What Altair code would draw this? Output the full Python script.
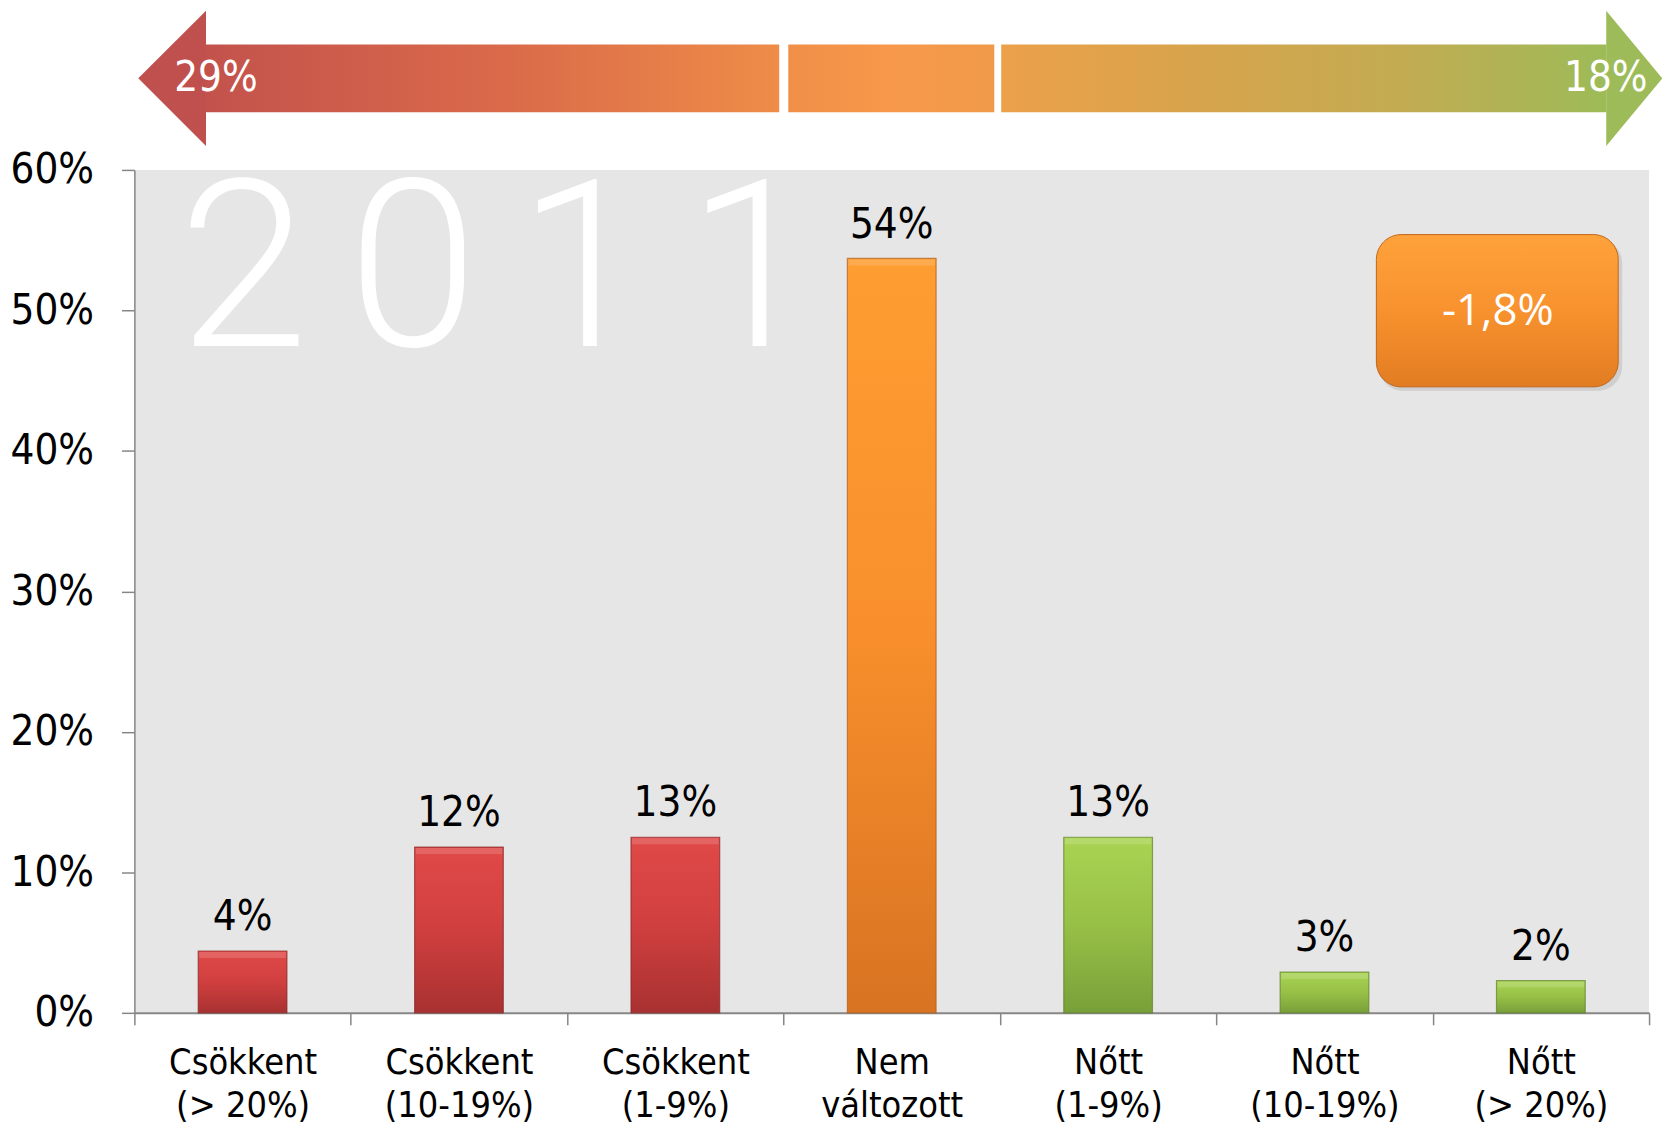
import altair as alt
import pandas as pd

# ---------------- data ----------------
categories = ["Csökkent|(> 20%)", "Csökkent|(10-19%)", "Csökkent|(1-9%)",
              "Nem|változott", "Nőtt|(1-9%)", "Nőtt|(10-19%)", "Nőtt|(> 20%)"]
values = [4.4, 11.8, 12.5, 53.7, 12.5, 2.9, 2.3]
value_labels = ["4%", "12%", "13%", "54%", "13%", "3%", "2%"]
groups = ["down", "down", "down", "same", "up", "up", "up"]
y_ticks = [0, 10, 20, 30, 40, 50, 60]
year_text = "2\u20060\u20061\u20061"
change_text = "-1,8%"
arrow_left_text = "29%"
arrow_right_text = "18%"

# ---------------- layout / style ----------------
W, H = 1522, 847
FONT = "DejaVu Sans Condensed, Liberation Sans Narrow, Liberation Sans, sans-serif"
AXIS_GRAY = "#868686"

df = pd.DataFrame({"cat": categories, "value": values, "vlab": value_labels, "grp": groups})


def vgrad(top, mid, bottom):
    return alt.Gradient(gradient="linear",
                        stops=[alt.GradientStop(color=top, offset=0),
                               alt.GradientStop(color=mid, offset=0.5),
                               alt.GradientStop(color=bottom, offset=1)],
                        x1=0, x2=0, y1=0, y2=1)


def hgrad(*cols):
    n = len(cols) - 1
    return alt.Gradient(gradient="linear",
                        stops=[alt.GradientStop(color=c, offset=i / n) for i, c in enumerate(cols)],
                        x1=0, x2=1, y1=0, y2=0)


bar_fill = {
    "down": (vgrad("#e04a48", "#d03f3f", "#a93131"), "#8a2626"),
    "same": (vgrad("#fe9d31", "#f88f2c", "#d87322"), "#b35c18"),
    "up": (vgrad("#a9d452", "#97c047", "#78a039"), "#5f8029"),
}

x_enc = alt.X("cat:N", sort=categories,
              scale=alt.Scale(domain=categories, paddingInner=0, paddingOuter=0),
              axis=alt.Axis(title=None,
                            labelExpr="isValid(datum.value) ? split(datum.value, '|') : ''",
                            labelAngle=0,
                            labelFont=FONT, labelFontSize=36, labelColor="black",
                            labelLineHeight=43, labelPadding=21, labelOverlap=False,
                            tickBand="extent", tickSize=12, tickColor=AXIS_GRAY, tickWidth=1.5,
                            domainColor=AXIS_GRAY, domainWidth=2))
y_enc = alt.Y("value:Q", scale=alt.Scale(domain=[0, 60], nice=False),
              axis=alt.Axis(title=None, values=y_ticks, labelExpr="datum.value + '%'",
                            grid=False, labelFont=FONT, labelFontSize=42, labelColor="black",
                            labelPadding=28, tickSize=13, tickColor=AXIS_GRAY, tickWidth=1.5,
                            domainColor=AXIS_GRAY, domainWidth=1.5))

base = alt.Chart(df).encode(x=x_enc, y=y_enc)

bar_layers = []
for g, (fill, stroke) in bar_fill.items():
    bar_layers.append(
        base.transform_filter(alt.datum.grp == g)
        .mark_bar(width=alt.RelativeBandSize(0.41), fill=fill, stroke=stroke,
                  strokeWidth=1.2, strokeOpacity=0.7)
    )

bevel = base.mark_tick(size=87, thickness=6, yOffset=4, color="white", opacity=0.15)

labels = base.mark_text(font=FONT, fontSize=42, color="black", baseline="alphabetic", dy=-21).encode(
    text="vlab:N")

year = alt.Chart(pd.DataFrame({"t": [year_text]})).mark_text(
    font="Roboto, DejaVu Sans Condensed, sans-serif", fontWeight=300, fontSize=235,
    color="white", align="center", baseline="alphabetic"
).encode(x=alt.value(365), y=alt.value(177), text="t:N")

box_df = pd.DataFrame({"t": [change_text]})
box_shadow = alt.Chart(box_df).mark_rect(cornerRadius=25, color="#9a9a9a", opacity=0.3).encode(
    x=alt.value(1250), x2=alt.value(1495), y=alt.value(69), y2=alt.value(222))
box = alt.Chart(box_df).mark_rect(
    cornerRadius=25, fill=vgrad("#fea23c", "#f8922e", "#e27c22"), stroke="#c0661a", strokeWidth=1
).encode(x=alt.value(1248), x2=alt.value(1491), y=alt.value(65), y2=alt.value(218))
box_text = alt.Chart(box_df).mark_text(
    font="Open Sans, Noto Sans, sans-serif", fontSize=44, color="white",
    align="center", baseline="middle"
).encode(x=alt.value(1370), y=alt.value(143), text="t:N")

main = alt.layer(*bar_layers, bevel, labels, year, box_shadow, box, box_text)

# ---------------- top arrow (x in category units, y in 0..1 of arrow height) ----------------
ax = alt.Scale(domain=[0, 7], nice=False, zero=False)
ay = alt.Scale(domain=[0, 1], range=[-24, -160], nice=False, zero=False)

left_head = alt.Chart(pd.DataFrame({"x": [0.018, 0.331], "y": [0.5, 0.0], "y2": [0.5, 1.0]})).mark_area(
    color="#c0504d").encode(x=alt.X("x:Q", scale=ax, axis=None), y=alt.Y("y:Q", scale=ay, axis=None), y2="y2:Q")
right_head = alt.Chart(pd.DataFrame({"x": [6.802, 7.061], "y": [0.0, 0.5], "y2": [1.0, 0.5]})).mark_area(
    color="#9dbb58").encode(x=alt.X("x:Q", scale=ax, axis=None), y=alt.Y("y:Q", scale=ay, axis=None), y2="y2:Q")

shafts = [
    (0.330, 2.980, hgrad("#c3524c", "#d9694a", "#ee8c48")),
    (3.022, 3.974, hgrad("#f08f48", "#f7984a", "#f09a4a")),
    (4.006, 6.803, hgrad("#eca04a", "#d6a44c", "#c2ab52", "#9dbb58")),
]
shaft_layers = []
for x0, x1, fill in shafts:
    shaft_layers.append(
        alt.Chart(pd.DataFrame({"x": [x0], "x2": [x1], "y": [0.25], "y2": [0.75]}))
        .mark_rect(fill=fill)
        .encode(x=alt.X("x:Q", scale=ax, axis=None), x2="x2:Q",
                y=alt.Y("y:Q", scale=ay, axis=None), y2="y2:Q")
    )

arrow_txt_l = alt.Chart(pd.DataFrame({"x": [0.184], "y": [0.5], "t": [arrow_left_text]})).mark_text(
    font=FONT, fontSize=42, color="white", align="left", baseline="middle").encode(
    x=alt.X("x:Q", scale=ax, axis=None), y=alt.Y("y:Q", scale=ay, axis=None), text="t:N")
arrow_txt_r = alt.Chart(pd.DataFrame({"x": [6.993], "y": [0.5], "t": [arrow_right_text]})).mark_text(
    font=FONT, fontSize=42, color="white", align="right", baseline="middle").encode(
    x=alt.X("x:Q", scale=ax, axis=None), y=alt.Y("y:Q", scale=ay, axis=None), text="t:N")

arrow = alt.layer(left_head, right_head, *shaft_layers, arrow_txt_l, arrow_txt_r)

chart = alt.layer(main, arrow).resolve_scale(x="independent", y="independent").properties(
    width=W, height=H,
    padding={"left": 127, "top": 160, "right": 13, "bottom": 110},
    autosize=alt.AutoSizeParams(type="none"),
    background="white",
).configure_view(fill="#e6e6e6", stroke=None)

chart.save("out.html", embed_options={"renderer": "svg", "actions": False})
